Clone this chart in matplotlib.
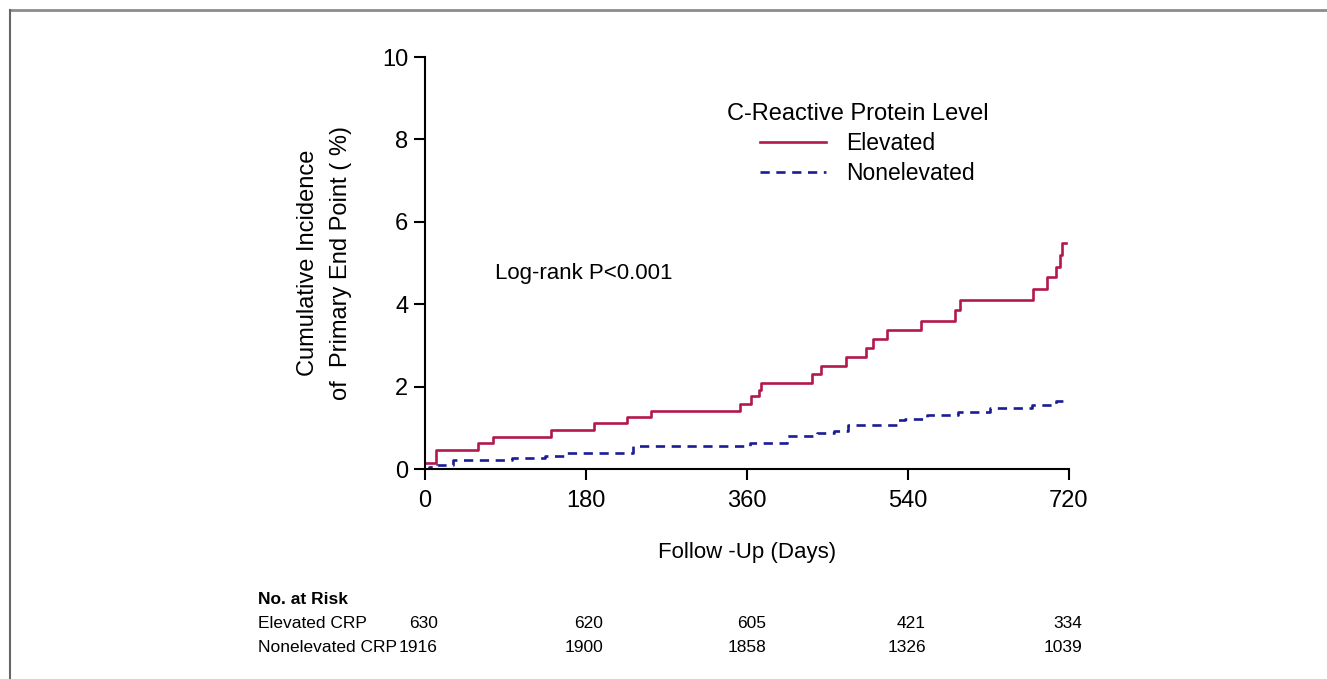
import matplotlib
matplotlib.use("Agg")
import matplotlib.pyplot as plt
from matplotlib.lines import Line2D
from matplotlib import font_manager

# ---------------- data ----------------
elev_days = [0, 12, 59, 76, 141, 189, 226, 253, 352, 365, 373, 376, 433, 443, 471,
             493, 501, 516, 555, 593, 598, 680, 695, 706, 710, 712, 717]
elev_pct = [0.15, 0.47, 0.63, 0.78, 0.95, 1.12, 1.26, 1.41, 1.58, 1.77, 1.92, 2.09,
            2.30, 2.50, 2.72, 2.93, 3.15, 3.37, 3.60, 3.86, 4.10, 4.37, 4.65, 4.90,
            5.20, 5.48, 5.48]

nonelev_days = [0, 5, 13, 31, 97, 134, 158, 233, 363, 405, 438, 457, 473, 528, 537,
                561, 596, 632, 679, 705, 720]
nonelev_pct = [0.0, 0.05, 0.10, 0.21, 0.26, 0.32, 0.39, 0.56, 0.62, 0.80, 0.87, 0.93,
               1.07, 1.19, 1.21, 1.31, 1.38, 1.47, 1.55, 1.65, 1.65]

x_ticks = [0, 180, 360, 540, 720]
y_ticks = [0, 2, 4, 6, 8, 10]

risk_rows = ["Elevated CRP", "Nonelevated CRP"]
risk_elev = [630, 620, 605, 421, 334]
risk_nonelev = [1916, 1900, 1858, 1326, 1039]

legend_title = "C-Reactive Protein Level"
series_labels = ["Elevated", "Nonelevated"]

# ---------------- style ----------------
available = {f.name for f in font_manager.fontManager.ttflist}
main_font = ["Liberation Sans", "DejaVu Sans"]
narrow_font = (["Liberation Sans Narrow"] if "Liberation Sans Narrow" in available else []) + main_font
plt.rcParams["font.family"] = main_font

RED = "#b3174f"
BLUE = "#1c1c96"

W, H = 1327, 679
fig = plt.figure(figsize=(W / 100, H / 100), dpi=100)

def fx(px):
    return px / W

def fy(py):
    return 1 - py / H

# frame lines
fig.add_artist(Line2D([fx(10), fx(1327)], [fy(9.5), fy(9.5)], color="#8c8c8c", lw=2.0,
                      transform=fig.transFigure))
fig.add_artist(Line2D([fx(10), fx(10)], [fy(9.5), fy(679)], color="#666666", lw=1.5,
                      transform=fig.transFigure))

ax = fig.add_axes([fx(425), fy(469), fx(1069) - fx(425), fy(57) - fy(469)])

ax.plot(elev_days, elev_pct, drawstyle="steps-post", color=RED, lw=1.9,
        label=series_labels[0])
ax.plot(nonelev_days, nonelev_pct, drawstyle="steps-post", color=BLUE, lw=1.9,
        linestyle=(0, (3.5, 2.5)), label=series_labels[1])

ax.set_xlim(0, 720)
ax.set_ylim(0, 10)
ax.set_xticks(x_ticks)
ax.set_yticks(y_ticks)
for s in ["top", "right"]:
    ax.spines[s].set_visible(False)
for s in ["left", "bottom"]:
    ax.spines[s].set_linewidth(1.5)
    ax.spines[s].set_color("black")
ax.tick_params(axis="both", direction="out", length=8, width=1.5, labelsize=17)
ax.tick_params(axis="x", pad=7)
ax.tick_params(axis="y", pad=4)
ax.spines["left"].set_clip_on(False)
ax.spines["bottom"].set_clip_on(False)

ax.set_xlabel("Follow -Up (Days)", fontsize=16, labelpad=22)
ax.set_ylabel("Cumulative Incidence\nof  Primary End Point ( %)", fontsize=17,
              labelpad=22, linespacing=1.6)

ax.text(fx(495), fy(273), "Log-rank P<0.001", transform=fig.transFigure,
        fontsize=16, ha="left", va="center")

# legend
fig.text(fx(727), fy(114), legend_title, fontsize=17, ha="left", va="center")
leg = ax.legend(loc="upper left", bbox_to_anchor=(fx(760), fy(132)),
                bbox_transform=fig.transFigure, frameon=False, fontsize=16.5,
                handlelength=2.9, handletextpad=0.85, labelspacing=0.3,
                borderpad=0, borderaxespad=0)

# risk table
fig.text(fx(258), fy(600), "No. at Risk", fontsize=12.5, fontweight="bold",
         ha="left", va="center", family=narrow_font)
row_y = [624, 648]
col_right = [438, 603, 766, 926, 1082]
for name, vals, yy in zip(risk_rows, [risk_elev, risk_nonelev], row_y):
    fig.text(fx(258), fy(yy), name, fontsize=12.5, ha="left", va="center",
             family=narrow_font)
    for v, xr in zip(vals, col_right):
        fig.text(fx(xr), fy(yy), str(v), fontsize=12.5, ha="right", va="center",
                 family=narrow_font)

fig.savefig("out.png", dpi=100)
